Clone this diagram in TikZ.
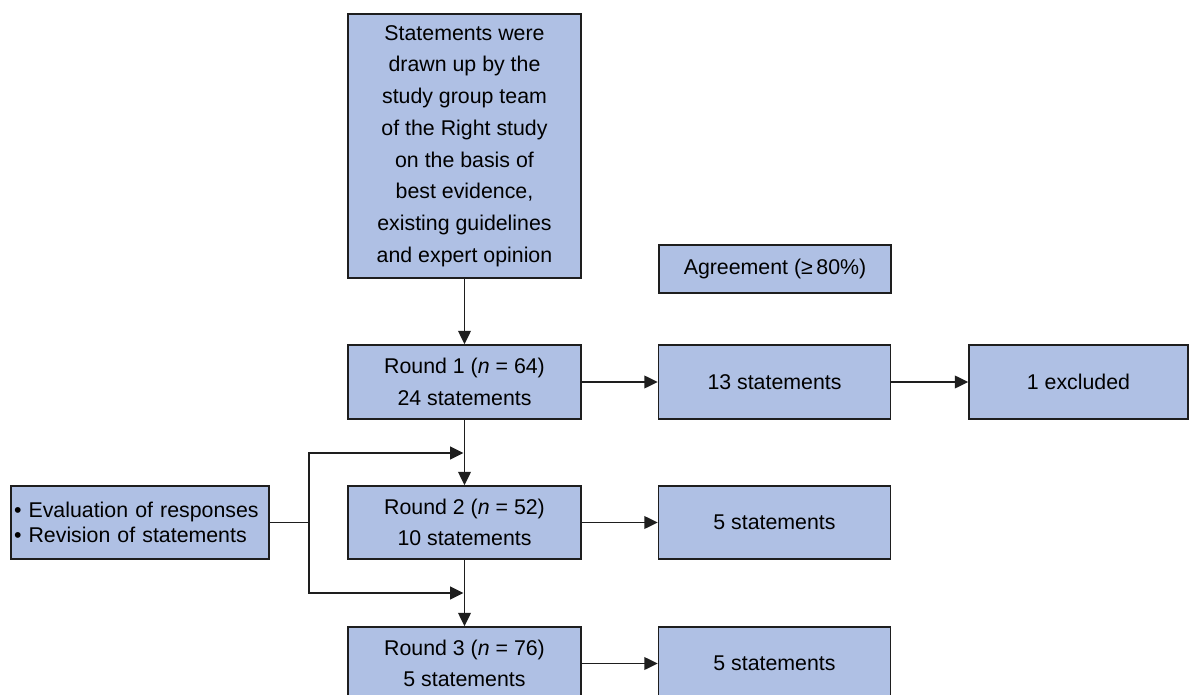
\documentclass[tikz,border=0pt]{standalone}
\usepackage{fontspec}
\setmainfont{Liberation Sans}
\usetikzlibrary{arrows.meta}
\definecolor{boxfill}{RGB}{175,192,228}
\definecolor{lineclr}{RGB}{30,30,30}
\tikzset{
  box/.style={draw=lineclr, line width=1.2pt, fill=boxfill, inner sep=0pt, align=center,
    font=\fontsize{16}{23.8}\selectfont, text=black},
  arr/.style={draw=lineclr, line width=1.2pt, -{Triangle[length=10pt,width=9.5pt]}},
  ln/.style={draw=lineclr, line width=1.2pt}
}
\begin{document}
\begin{tikzpicture}[x=0.75pt,y=-0.75pt]
\useasboundingbox (0,0) rectangle (1189,695);
\fill[white] (0,0) rectangle (1189,695);
\node[box, minimum width=174.75pt, minimum height=198pt] (top) at (464.5,146)
  {Statements were\\drawn up by the\\study group team\\of the Right study\\on the basis of\\best evidence,\\existing guidelines\\and expert opinion};
\node[box, minimum width=174pt, minimum height=36pt] (agr) at (775,269) {Agreement (≥\,80\%)};
\node[box, minimum width=174.75pt, minimum height=55.5pt] (r1) at (464.5,382) {Round 1 (\textit{n} = 64)\\24 statements};
\node[box, minimum width=174pt, minimum height=55.5pt] (s13) at (774.5,382) {13 statements};
\node[box, minimum width=164.25pt, minimum height=55.5pt] (ex) at (1078.5,382) {1 excluded};
\node[box, minimum width=174.75pt, minimum height=54.75pt] (r2) at (464.5,522.5) {Round 2 (\textit{n} = 52)\\10 statements};
\node[box, minimum width=174pt, minimum height=54.75pt] (s5a) at (774.5,522.5) {5 statements};
\node[box, minimum width=174.75pt, minimum height=54.75pt] (r3) at (464.5,663.5) {Round 3 (\textit{n} = 76)\\5 statements};
\node[box, minimum width=174pt, minimum height=54.75pt] (s5b) at (774.5,663.5) {5 statements};
\node[box, minimum width=193.5pt, minimum height=54.75pt, align=left, inner xsep=2pt,
  text width=189pt, font=\fontsize{16}{18.75}\selectfont] (lb) at (140,522.5)
  {• Evaluation of responses\\• Revision of statements};
\coordinate (j) at (309,522.5);
\coordinate (fb1) at (463.5,453);
\coordinate (fb2) at (463.5,593);
\draw[arr] (top) -- (r1);
\draw[arr] (r1) -- (s13);
\draw[arr] (s13) -- (ex);
\draw[arr] (r1) -- (r2);
\draw[arr] (r2) -- (r3);
\draw[arr] (r2) -- (s5a);
\draw[arr] (r3) -- (s5b);
\draw[ln] (lb.east) -- (j);
\draw[arr] (j) |- (fb1);
\draw[arr] (j) |- (fb2);
\end{tikzpicture}
\end{document}
